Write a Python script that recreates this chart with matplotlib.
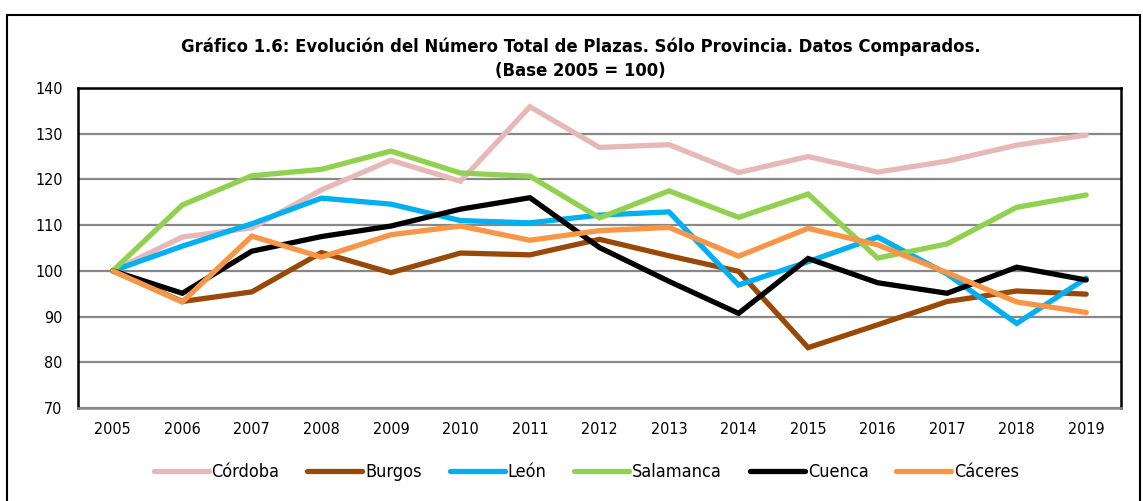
import matplotlib
matplotlib.use("Agg")
import matplotlib.pyplot as plt
from matplotlib.patches import Rectangle
from matplotlib import font_manager

years = list(range(2005, 2020))
series_names = ["Córdoba", "Burgos", "León", "Salamanca", "Cuenca", "Cáceres"]
cordoba = [100, 107.4, 109.4, 117.7, 124.2, 119.6, 135.9, 127.0, 127.6, 121.5, 125.0, 121.6, 124.0, 127.5, 129.7]
burgos = [100, 93.3, 95.4, 104.0, 99.6, 103.9, 103.5, 106.9, 103.3, 99.9, 83.2, 88.2, 93.3, 95.6, 94.9]
leon = [100, 105.4, 110.3, 115.9, 114.6, 111.0, 110.5, 112.2, 112.9, 96.9, 102.0, 107.4, 99.3, 88.5, 98.4]
salamanca = [100, 114.4, 120.8, 122.2, 126.2, 121.4, 120.7, 111.6, 117.5, 111.7, 116.8, 102.8, 105.9, 113.9, 116.6]
cuenca = [100, 95.1, 104.3, 107.5, 109.8, 113.5, 116.0, 105.1, 97.7, 90.7, 102.7, 97.4, 95.1, 100.8, 98.0]
caceres = [100, 93.2, 107.6, 103.0, 107.9, 109.8, 106.7, 108.8, 109.5, 103.2, 109.3, 105.7, 99.6, 93.2, 90.9]
colors = ["#E6B9B8", "#984807", "#00B0F0", "#92D050", "#000000", "#F79646"]
yticks = [70, 80, 90, 100, 110, 120, 130, 140]
title_text = "Gráfico 1.6: Evolución del Número Total de Plazas. Sólo Provincia. Datos Comparados.\n(Base 2005 = 100)"

fonts = font_manager.fontManager.ttflist
names_avail = {f.name for f in fonts}
has_cond = any(f.name == "DejaVu Sans" and f.stretch == "condensed" for f in fonts)
if "Liberation Sans Narrow" in names_avail:
    tick_font = {"family": "Liberation Sans Narrow"}
elif has_cond:
    tick_font = {"family": "DejaVu Sans", "stretch": "condensed"}
else:
    tick_font = {"family": "Roboto"}

fig = plt.figure(figsize=(11.43, 5.01), dpi=100)
fig.patches.append(Rectangle((7/1143, -0.05), 1133/1143, 1 - 15/501 + 0.05, transform=fig.transFigure,
                             fill=False, edgecolor="black", linewidth=1.5))

ax = fig.add_axes([78/1143, 1 - 408/501, (1121 - 78)/1143, (408 - 88)/501])
all_series = [cordoba, burgos, leon, salamanca, cuenca, caceres]
for name, vals, c in zip(series_names, all_series, colors):
    ax.plot(years, vals, color=c, linewidth=3.8, label=name, solid_capstyle="round", solid_joinstyle="miter")

ax.set_xlim(2004.5, 2019.5)
ax.set_ylim(70, 140)
ax.set_yticks(yticks)
ax.set_xticks(years)
ax.set_xticklabels([str(y) for y in years], fontsize=11.5, **tick_font)
ax.set_yticklabels([str(v) for v in yticks], fontsize=11.5, **tick_font)
ax.tick_params(axis="x", length=0, pad=10)
ax.tick_params(axis="y", length=0, pad=11)
ax.yaxis.grid(True, color="#888888", linewidth=1.6)
ax.set_axisbelow(True)
for s in ["left", "top", "right"]:
    ax.spines[s].set_color("black")
    ax.spines[s].set_linewidth(1.8)
ax.spines["bottom"].set_color("#888888")
ax.spines["bottom"].set_linewidth(1.8)

fig.text(0.508, 1 - 59/501, title_text, ha="center", va="center", fontsize=11.9,
         fontweight="bold", family="DejaVu Sans", linespacing=1.4)

leg = fig.legend(loc="center", bbox_to_anchor=(0.513, 1 - 472/501), ncol=6, frameon=False,
                 prop=dict(size=13, **tick_font), handlelength=3.05, handletextpad=0.15,
                 columnspacing=1.55)

fig.savefig("out.png", dpi=100)
